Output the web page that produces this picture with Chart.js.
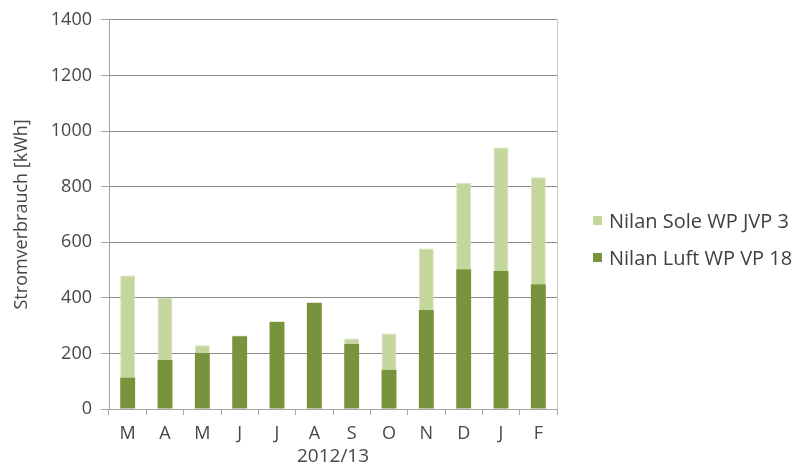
<!DOCTYPE html>
<html>
<head>
<meta charset="utf-8">
<script src="https://cdn.jsdelivr.net/npm/chart.js@4/dist/chart.umd.min.js"></script>
<style>
  html, body { margin: 0; padding: 0; background: #ffffff; }
  #wrap { position: relative; width: 797px; height: 468px; }
  #chart { position: absolute; left: 0; top: 0; }
  #legend { position: absolute; left: 593px; top: 206px; font-family: "Open Sans", sans-serif; font-size: 20px; color: #404040; }
  .item { display: flex; align-items: center; height: 28px; margin-bottom: 9px; white-space: nowrap; }
  .swatch { width: 9px; height: 9px; margin-right: 7px; }
</style>
</head>
<body>
<div id="wrap">
  <canvas id="chart" width="797" height="468"></canvas>
  <div id="legend"></div>
</div>
<script>
// Monthly electricity use, March 2012 to February 2013
const months = ['M', 'A', 'M', 'J', 'J', 'A', 'S', 'O', 'N', 'D', 'J', 'F'];
const luftWP = [113, 176, 202, 262, 313, 382, 235, 141, 356, 503, 496, 449];
const soleWP = [367, 224, 27, 2, 3, 0, 19, 131, 221, 311, 445, 385];
const seriesNames = ['Nilan Luft WP VP 18', 'Nilan Sole WP JVP 3'];
const yTicks = [0, 200, 400, 600, 800, 1000, 1200, 1400];
const yTitle = 'Stromverbrauch [kWh]';
const xTitle = '2012/13';

const FONT = '"Open Sans", sans-serif';
const TEXT = '#474747';
const DARK = '#77933C';
const LIGHT = '#C3D69B';

// thin frame line on the right side of the plot area
const rightFrame = {
  id: 'rightFrame',
  afterDraw(chart) {
    const { ctx, chartArea } = chart;
    ctx.save();
    ctx.strokeStyle = '#c8c8c8';
    ctx.lineWidth = 1;
    ctx.beginPath();
    const x = Math.round(chartArea.right) + 0.5;
    ctx.moveTo(x, chartArea.top);
    ctx.lineTo(x, chartArea.bottom);
    ctx.stroke();
    ctx.restore();
  }
};

const chart = new Chart(document.getElementById('chart'), {
  type: 'bar',
  data: {
    labels: months,
    datasets: [
      { label: seriesNames[0], data: luftWP, backgroundColor: DARK, borderWidth: 0,
        barPercentage: 0.4, categoryPercentage: 1.0 },
      { label: seriesNames[1], data: soleWP, backgroundColor: LIGHT, borderColor: '#d3e2b4',
        borderWidth: { left: 1, right: 1, top: 1, bottom: 0 }, borderSkipped: 'bottom',
        barPercentage: 0.4, categoryPercentage: 1.0 }
    ]
  },
  options: {
    responsive: false,
    animation: false,
    layout: { padding: { left: 0, right: 240, top: 19, bottom: 0 } },
    plugins: { legend: { display: false }, tooltip: { enabled: false } },
    scales: {
      x: {
        stacked: true,
        offset: true,
        grid: { display: true, drawOnChartArea: false, drawTicks: true, tickLength: 6,
                offset: true, color: '#a5a5a5' },
        border: { color: '#a5a5a5' },
        ticks: { color: TEXT, font: { family: FONT, size: 18 }, padding: 8, maxRotation: 0 },
        title: { display: true, text: xTitle, color: TEXT, font: { family: FONT, size: 19 },
                 padding: { top: -2, bottom: 0 } },
        afterFit(scale) { scale.height = 59; }
      },
      y: {
        stacked: true,
        min: 0,
        max: 1400,
        afterBuildTicks(scale) { scale.ticks = yTicks.map(v => ({ value: v })); },
        grid: { color: '#8c8c8c', tickColor: '#a5a5a5', tickLength: 8, drawTicks: true },
        border: { color: '#a5a5a5' },
        ticks: { color: TEXT, font: { family: FONT, size: 18 }, padding: 9,
                 callback: v => String(v) },
        title: { display: true, text: yTitle, color: TEXT, font: { family: FONT, size: 18 },
                 padding: { top: 11, bottom: 0 } },
        afterFit(scale) { scale.width = 109; }
      }
    }
  },
  plugins: [rightFrame]
});

// legend beside the plot, top entry is the upper stack segment
const legend = document.getElementById('legend');
[1, 0].forEach(i => {
  const ds = chart.data.datasets[i];
  const row = document.createElement('div');
  row.className = 'item';
  const sw = document.createElement('span');
  sw.className = 'swatch';
  sw.style.background = ds.backgroundColor;
  const label = document.createElement('span');
  label.textContent = ds.label;
  row.appendChild(sw);
  row.appendChild(label);
  legend.appendChild(row);
});
</script>
</body>
</html>
